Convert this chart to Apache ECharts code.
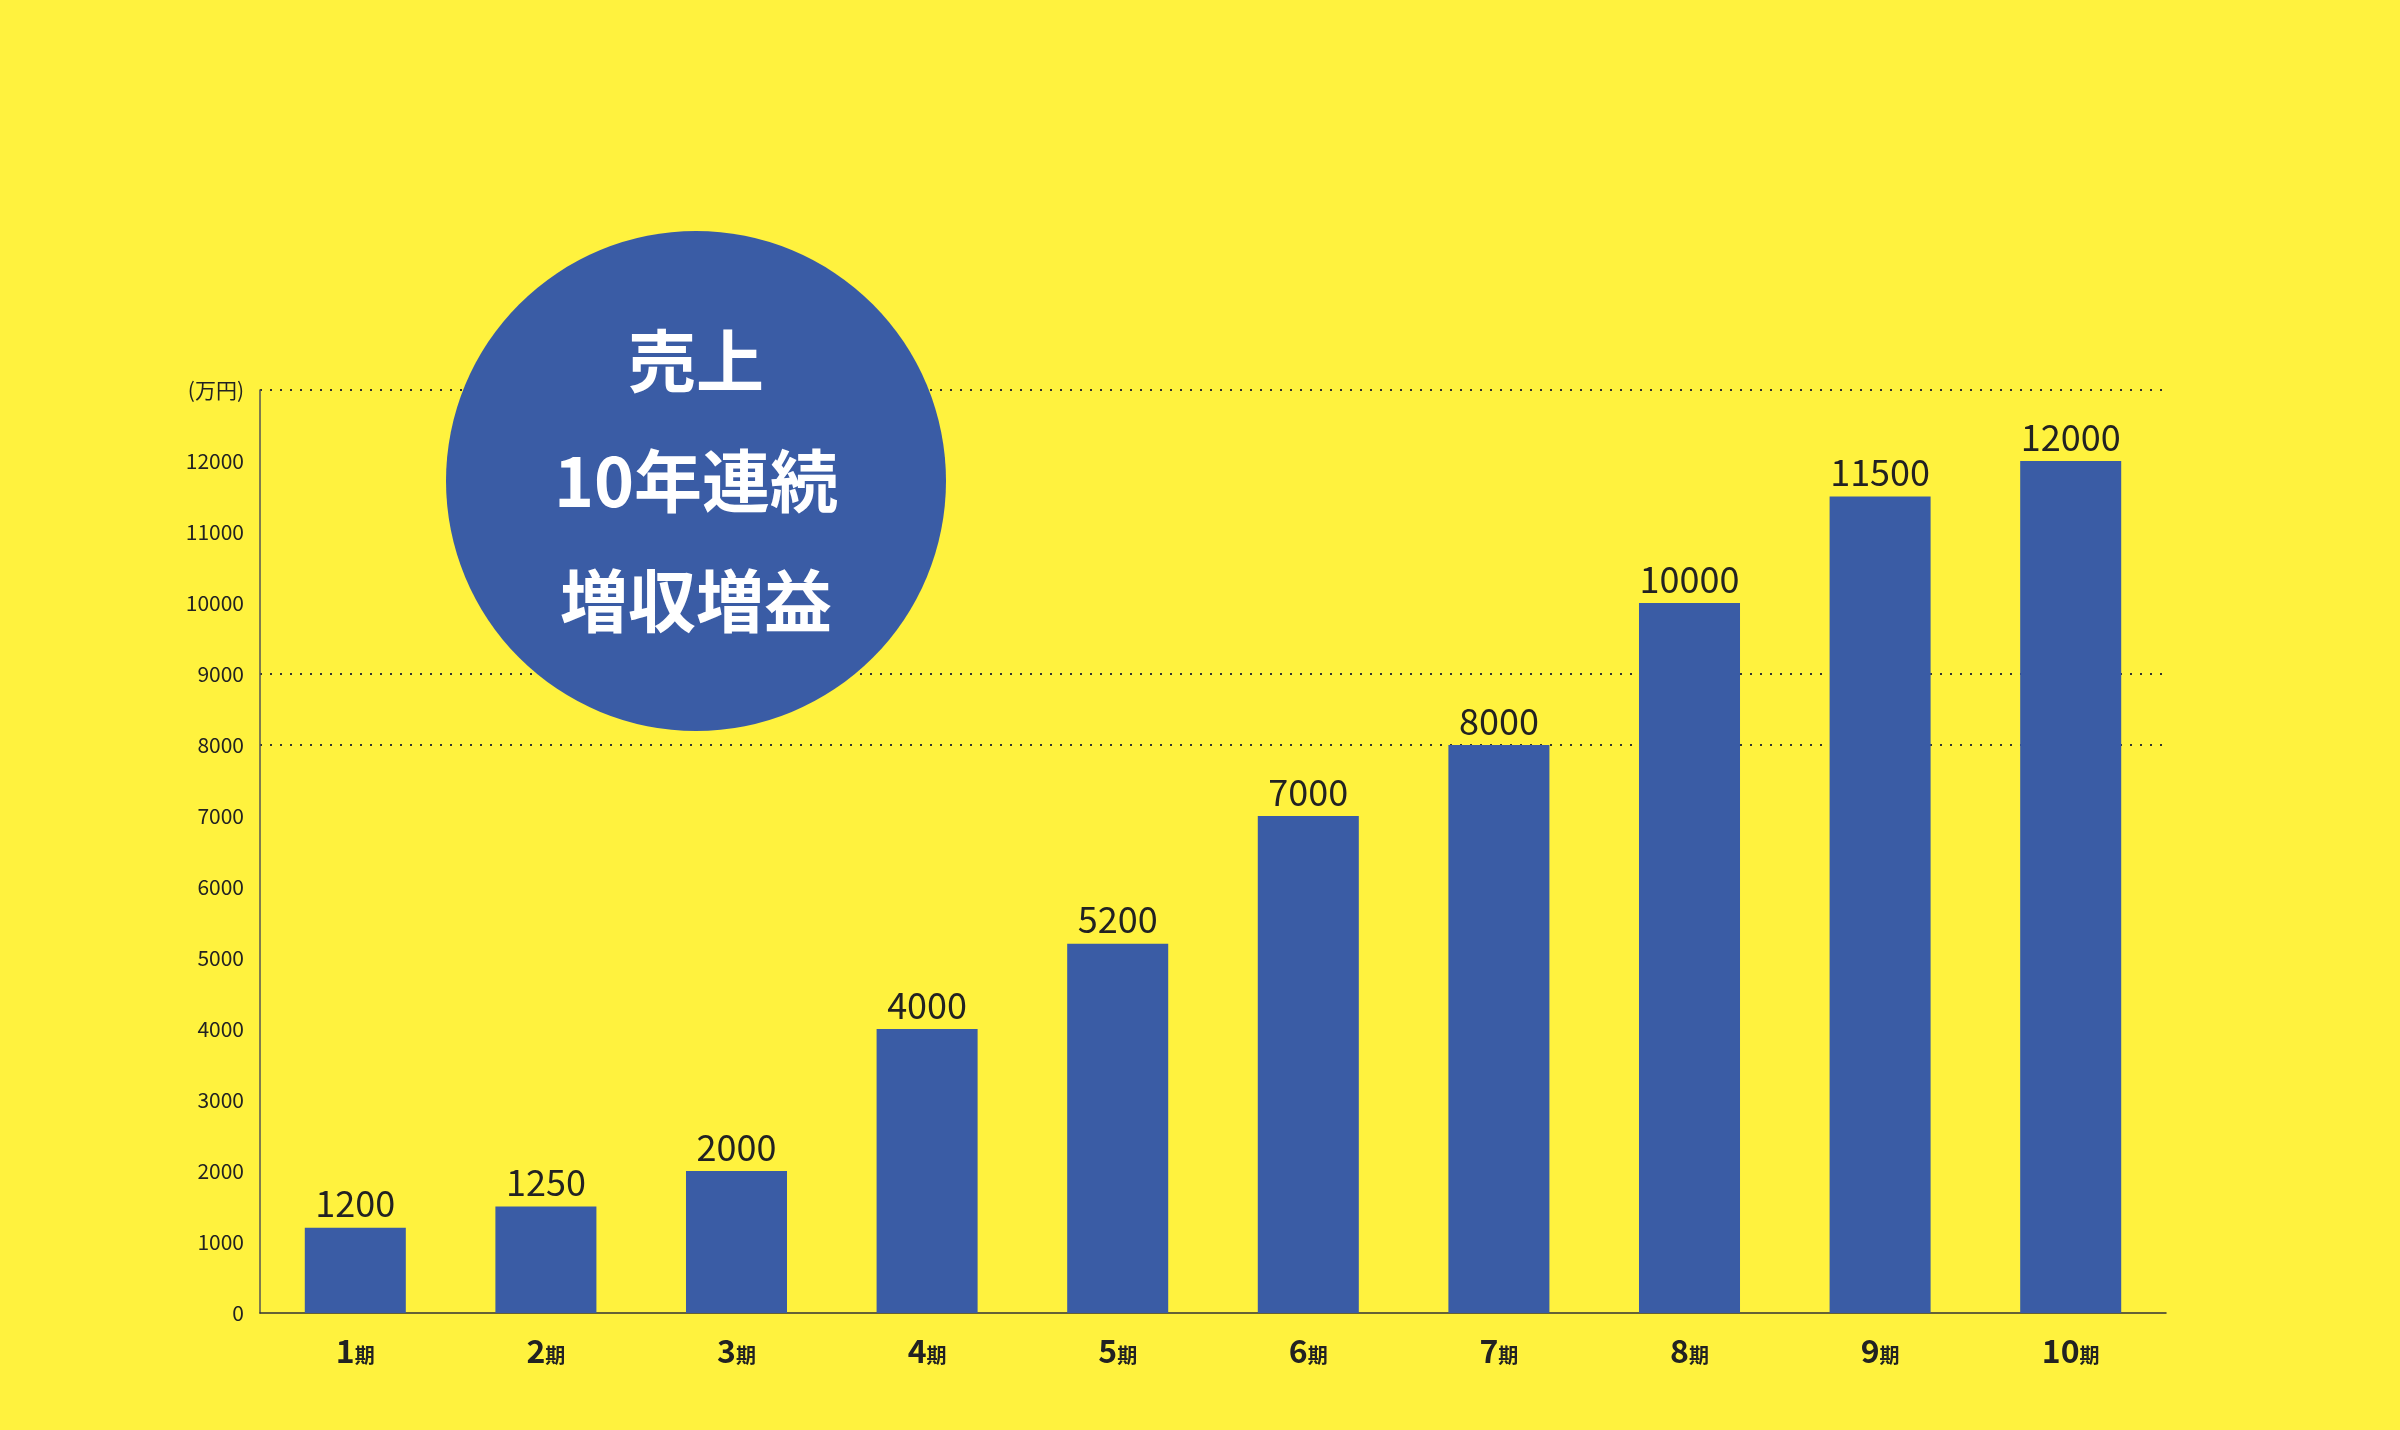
<!DOCTYPE html>
<html>
<head>
<meta charset="utf-8">
<script src="https://cdn.jsdelivr.net/npm/echarts@6/dist/echarts.min.js"></script>
<style>
  html, body { margin: 0; padding: 0; background: #fff23e; }
  #chart { width: 2400px; height: 1430px; }
</style>
</head>
<body>
<div id="chart"></div>
<script>
const categories = ['1', '2', '3', '4', '5', '6', '7', '8', '9', '10'];
// bar heights as drawn in the picture
const barValues = [1200, 1500, 2000, 4000, 5200, 7000, 8000, 10000, 11500, 12000];
// numbers printed above the bars
const barLabels = ['1200', '1250', '2000', '4000', '5200', '7000', '8000', '10000', '11500', '12000'];
const yTicks = ['0', '1000', '2000', '3000', '4000', '5000', '6000', '7000', '8000', '9000', '10000', '11000', '12000', '(万円)'];
const dottedAt = [8000, 9000, 13000];

const font = '"Liberation Sans Narrow", "Noto Sans CJK JP", sans-serif';
const cjk = '"Noto Sans CJK JP", sans-serif';

const chart = echarts.init(document.getElementById('chart'));

const gridColors = yTicks.map((t, i) =>
  dottedAt.indexOf(i * 1000) >= 0 ? '#333' : 'rgba(0,0,0,0)');

chart.setOption({
  backgroundColor: '#fff23e',
  animation: false,
  grid: { left: 260, right: 234, top: 390, bottom: 117 },
  xAxis: {
    type: 'category',
    data: categories,
    axisLine: { lineStyle: { color: '#333', width: 1.5 } },
    axisTick: { show: false },
    axisLabel: {
      margin: 22,
      formatter: v => '{n|' + v + '}{k|期}',
      rich: {
        n: { fontFamily: font, fontWeight: 'bold', fontSize: 32, color: '#222' },
        k: { fontFamily: cjk, fontWeight: 'bold', fontSize: 20, color: '#222', padding: [8, 0, 0, 0] }
      }
    }
  },
  yAxis: {
    type: 'value',
    min: 0,
    max: 13000,
    interval: 1000,
    axisLine: { show: true, lineStyle: { color: '#555', width: 1.5 } },
    axisTick: { show: false },
    axisLabel: {
      fontFamily: font,
      fontSize: 21,
      color: '#222',
      margin: 16,
      formatter: (v) => yTicks[Math.round(v / 1000)]
    },
    splitLine: {
      show: true,
      lineStyle: { color: gridColors, type: [2, 8], width: 2 }
    }
  },
  series: [{
    type: 'bar',
    data: barValues,
    barWidth: '53%',
    itemStyle: { color: '#3a5ca5' },
    label: {
      show: true,
      position: 'top',
      distance: 6,
      fontFamily: font,
      fontSize: 36,
      color: '#222',
      formatter: p => barLabels[p.dataIndex]
    }
  }],
  graphic: [
    {
      type: 'circle',
      shape: { cx: 696, cy: 481, r: 250 },
      style: { fill: '#3a5ca5' },
      z: 100
    },
    {
      type: 'text',
      x: 696,
      y: 481,
      z: 101,
      style: {
        text: '売上\n10年連続\n増収増益',
        fill: '#fff',
        fontFamily: cjk,
        fontWeight: 'bold',
        fontSize: 68,
        lineHeight: 120,
        align: 'center',
        verticalAlign: 'middle'
      }
    }
  ]
});
</script>
</body>
</html>
